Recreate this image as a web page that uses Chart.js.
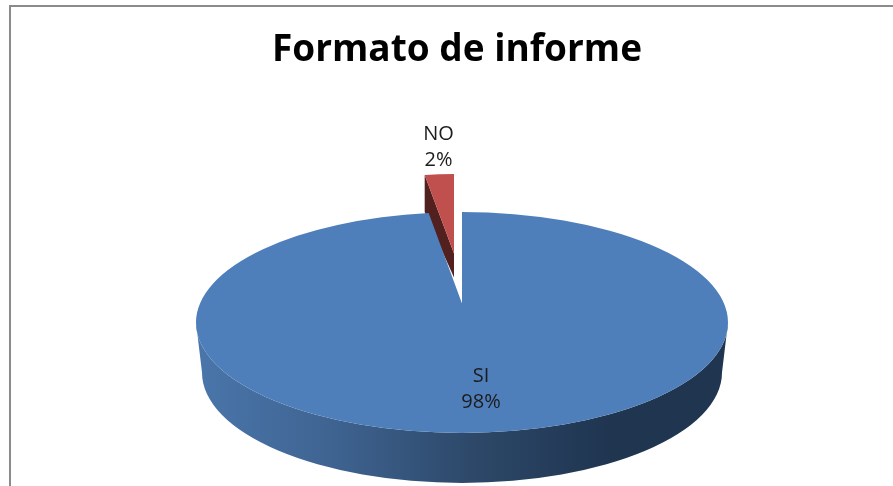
<!DOCTYPE html>
<html>
<head>
<meta charset="utf-8">
<title>Formato de informe</title>
<script src="https://cdn.jsdelivr.net/npm/chart.js@4"></script>
<style>
    html, body { margin: 0; padding: 0; background: #fff; overflow: hidden; }
    #caja { position: relative; width: 893px; height: 486px; }
    #marco { position: absolute; left: 9px; top: 5px; right: -4px; bottom: -4px; border: 2px solid #8b8b8b; }
    #grafico { position: absolute; left: 0; top: 0; }
</style>
</head>
<body>
<div id="caja">
    <div id="marco"></div>
    <canvas id="grafico" width="893" height="486"></canvas>
</div>
<script>
const titulo = "Formato de informe";
const categorias = ["SI", "NO"];
const valores = [98, 2];
const porcentajes = ["98%", "2%"];
const colores = ["#4f7fbb", "#c0504d"];

// Proyección de la torta en perspectiva (Chart.js solo dibuja círculos planos)
const INCLINACION = 0.415;
const CENTRO_Y = 322.5;
const DESVIO_X = 5;
const APICE_Y = 19;
const ALTO = 50;

function sector(ctx, cx, cy, rx, ry, apiceX, apiceY, ini, fin) {
    ctx.beginPath();
    ctx.moveTo(apiceX, apiceY);
    ctx.ellipse(cx, cy, rx, ry, 0, ini, fin);
    ctx.closePath();
}

const torta3d = {
    id: "torta3d",
    beforeDatasetsDraw(chart) {
        const ctx = chart.ctx;
        const arcos = chart.getDatasetMeta(0).data;
        const si = arcos[0];
        const no = arcos[1];
        const cx = si.x + DESVIO_X;
        const rx = si.outerRadius;
        const ry = rx * INCLINACION;

        // pared exterior de SI
        const grad = ctx.createLinearGradient(cx - rx, 0, cx + rx, 0);
        grad.addColorStop(0, "#4a76ab");
        grad.addColorStop(0.25, "#3f6492");
        grad.addColorStop(0.52, "#2d4869");
        grad.addColorStop(0.78, "#1f3550");
        grad.addColorStop(1, "#1f3550");
        ctx.beginPath();
        ctx.ellipse(cx, CENTRO_Y, rx, ry, 0, Math.PI, 0, true);
        ctx.lineTo(cx + rx - 6, CENTRO_Y + ALTO);
        ctx.ellipse(cx, CENTRO_Y + ALTO, rx - 6, ry, 0, 0, Math.PI);
        ctx.closePath();
        ctx.fillStyle = grad;
        ctx.fill();

        // NO separado: pared oscura y cara superior
        const rxNo = rx * 0.88;
        const cxNo = cx - no.options.offset * 0.21;
        const cyNo = CENTRO_Y - no.options.offset;
        const apiceNoY = CENTRO_Y - APICE_Y - 50;
        const xIni = cxNo + rxNo * Math.cos(no.startAngle);
        const yIni = cyNo + ry * Math.sin(no.startAngle);
        ctx.beginPath();
        ctx.moveTo(xIni, yIni);
        ctx.lineTo(cxNo, apiceNoY);
        ctx.lineTo(cxNo, apiceNoY + 24);
        ctx.lineTo(xIni, yIni + 37);
        ctx.closePath();
        ctx.fillStyle = "#52201e";
        ctx.fill();
        sector(ctx, cxNo, cyNo, rxNo, ry, cxNo, apiceNoY, no.startAngle, no.endAngle);
        ctx.fillStyle = no.options.backgroundColor;
        ctx.fill();

        // cara superior de SI
        sector(ctx, cx, CENTRO_Y, rx, ry, cx, CENTRO_Y - APICE_Y, si.startAngle, si.endAngle);
        ctx.fillStyle = si.options.backgroundColor;
        ctx.fill();

        // etiquetas
        const pos = [[cx + 19, CENTRO_Y + 54], [cxNo - 15.5, cyNo - ry - 40]];
        ctx.fillStyle = "#1c1c1c";
        ctx.font = "20px 'Open Sans'";
        ctx.textAlign = "center";
        ctx.textBaseline = "middle";
        categorias.forEach((cat, i) => {
            ctx.fillText(cat, pos[i][0], pos[i][1]);
            ctx.fillText(porcentajes[i], pos[i][0], pos[i][1] + 26);
        });
        return false;
    }
};

new Chart(document.getElementById("grafico").getContext("2d"), {
    type: "pie",
    data: {
        labels: categorias,
        datasets: [{
            data: valores,
            backgroundColor: colores,
            offset: [0, 38],
            borderWidth: 0
        }]
    },
    options: {
        responsive: false,
        animation: false,
        radius: 266,
        layout: { padding: { left: 21 } },
        plugins: {
            legend: { display: false },
            tooltip: { enabled: false },
            title: {
                display: true,
                text: titulo,
                color: "#000",
                font: { family: "'Open Sans'", size: 37, weight: "bold" },
                padding: { top: 28, bottom: 10 }
            }
        }
    },
    plugins: [torta3d]
});
</script>
</body>
</html>
